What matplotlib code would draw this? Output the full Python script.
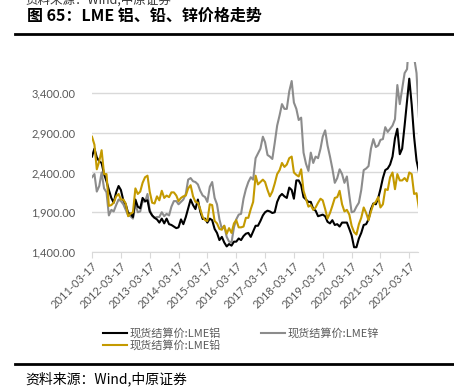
import matplotlib
matplotlib.use("Agg")
import matplotlib.pyplot as plt
from matplotlib.lines import Line2D
import pandas as pd

plt.rcParams['font.family'] = ['Noto Sans CJK SC', 'DejaVu Sans']

# monthly settlement prices, 2011-03 .. 2022-07 (USD/t)
aluminium = [
    2600, 2700, 2590, 2540, 2520, 2380, 2290, 2180, 2080, 2020,
    2150, 2230, 2180, 2050, 2000, 1890, 1880, 1840, 2060, 1970, 1950, 2080,
    2040, 2050, 1910, 1860, 1830, 1810, 1770, 1820, 1760, 1820, 1750, 1740,
    1720, 1700, 1710, 1810, 1750, 1840, 1950, 2060, 1990, 1940, 2060, 1910,
    1815, 1820, 1770, 1820, 1800, 1690, 1640, 1550, 1590, 1520, 1470, 1500,
    1480, 1530, 1530, 1570, 1550, 1600, 1630, 1640, 1590, 1660, 1730, 1730,
    1790, 1860, 1900, 1920, 1910, 1890, 1900, 2030, 2100, 2130, 2100, 2080,
    2210, 2180, 2070, 2300, 2300, 2240, 2090, 2060, 2030, 2030, 1940, 1920,
    1850, 1860, 1870, 1850, 1780, 1760, 1800, 1740, 1750, 1720, 1770, 1770,
    1770, 1690, 1610, 1460, 1460, 1570, 1640, 1740, 1750, 1810, 1940, 2010,
    2000, 2080, 2190, 2330, 2430, 2450, 2500, 2600, 2830, 2950, 2630, 2700,
    2990, 3300, 3580, 3250, 2850, 2550, 2410,
]
zinc = [
    2340, 2380, 2160, 2230, 2400, 2200, 2150, 1860, 1930, 1910,
    1990, 2060, 2040, 2000, 1930, 1860, 1850, 1820, 2010, 1900, 1910, 2040,
    2030, 2130, 1930, 1860, 1830, 1840, 1840, 1900, 1850, 1880, 1860, 1970,
    2040, 2040, 2000, 2030, 2060, 2130, 2310, 2330, 2290, 2280, 2250, 2170,
    2110, 2090, 2030, 2220, 2280, 2080, 2000, 1810, 1690, 1730, 1590, 1530,
    1520, 1710, 1810, 1870, 1880, 2070, 2190, 2280, 2340, 2310, 2580, 2640,
    2700, 2850, 2780, 2620, 2600, 2570, 2770, 2990, 3120, 3260, 3200, 3200,
    3420, 3550, 3280, 3200, 3060, 3090, 2650, 2510, 2420, 2650, 2520, 2600,
    2580, 2700, 2850, 2930, 2740, 2600, 2450, 2270, 2330, 2440, 2380, 2270,
    2350, 2110, 1900, 1910, 1970, 2020, 2180, 2430, 2450, 2480, 2700, 2820,
    2720, 2740, 2810, 2820, 2970, 2910, 2950, 2990, 3070, 3500, 3260, 3450,
    3650, 3700, 4100, 4300, 3850, 3650, 3100,
]
lead = [
    2850, 2750, 2440, 2540, 2680, 2380, 2380, 1980, 1990, 2020,
    2100, 2130, 2060, 2060, 2010, 1850, 1880, 1900, 2200, 2130, 2160, 2270,
    2340, 2360, 2160, 2020, 2010, 2100, 2050, 2170, 2080, 2110, 2090, 2150,
    2150, 2110, 2040, 2080, 2100, 2110, 2200, 2240, 2100, 2030, 2020, 1940,
    1840, 1800, 1790, 2000, 1990, 1790, 1760, 1690, 1680, 1730, 1630, 1700,
    1640, 1760, 1800, 1710, 1710, 1720, 1830, 1830, 1940, 2030, 2360, 2250,
    2280, 2310, 2280, 2180, 2100, 2160, 2260, 2380, 2430, 2520, 2470, 2500,
    2580, 2600, 2400, 2370, 2350, 2440, 2170, 2070, 1970, 1990, 1930, 1960,
    2020, 2070, 2050, 1940, 1820, 1890, 1980, 2080, 2090, 2170, 2000, 1910,
    1930, 1870, 1730, 1650, 1620, 1750, 1830, 1960, 1890, 1800, 1910, 2000,
    2030, 2090, 1960, 2000, 2190, 2180, 2340, 2400, 2190, 2380, 2300, 2300,
    2330, 2290, 2400, 2380, 2130, 2140, 1950,
]
dates = pd.date_range('2011-03-17', periods=len(aluminium), freq=pd.DateOffset(months=1))
tick_dates = pd.date_range('2011-03-17', periods=12, freq=pd.DateOffset(years=1))
yticks = [1400, 1900, 2400, 2900, 3400]

labels = ['现货结算价:LME铝', '现货结算价:LME锌', '现货结算价:LME铅']
colors = ['#000000', '#8c8c8c', '#c49a00']

fig = plt.figure(figsize=(4.54, 3.91), dpi=100)
ax = fig.add_axes([0.2026, 0.3555, 0.718, 0.486])

ax.plot(dates, aluminium, color=colors[0], lw=1.5, zorder=3)
ax.plot(dates, zinc, color=colors[1], lw=1.5, zorder=2)
ax.plot(dates, lead, color=colors[2], lw=1.5, zorder=4)

ax.set_ylim(1400, 3790)
ax.set_xlim(dates[0], pd.Timestamp('2022-07-05'))
ax.set_yticks(yticks)
ax.set_yticklabels([f'{v:,.2f}' for v in yticks], fontfamily='Lato', fontsize=8, color='#595959')
ax.set_xticks(tick_dates)
ax.set_xticklabels([d.strftime('%Y-%m-%d') for d in tick_dates], rotation=45, ha='right',
                   rotation_mode='anchor', fontfamily='Lato', fontsize=8, color='#595959')
ax.grid(axis='y', color='#d9d9d9', lw=1)
ax.set_axisbelow(True)
for s in ['left', 'right', 'top']:
    ax.spines[s].set_visible(False)
ax.spines['bottom'].set_color('#d9d9d9')
ax.tick_params(axis='y', length=0, pad=12)
ax.tick_params(axis='x', length=4, color='#d9d9d9', pad=2)

handles = [Line2D([], [], color=c, lw=1.5) for c in colors]
order = [0, 2, 1]
fig.legend([handles[i] for i in order], [labels[i] for i in order], ncol=2,
           loc='center', bbox_to_anchor=(0.53, 0.132), frameon=False, fontsize=8,
           labelcolor='#595959', handlelength=2.2, handletextpad=0.2,
           columnspacing=3.6, labelspacing=0.15)

fig.text(0.06, 0.947, '图 65：LME 铝、铅、锌价格走势', fontsize=11.5, fontweight='bold')
fig.text(0.055, 1.0, '资料来源：Wind,中原证券', fontsize=9, va='center', color='#333333')
fig.text(0.055, 0.031, '资料来源：Wind,中原证券', fontsize=10, va='center')
fig.add_artist(Line2D([0.033, 1.0], [0.913, 0.913], color='black', lw=2))
fig.add_artist(Line2D([0.033, 1.0], [0.069, 0.069], color='black', lw=2))

fig.savefig('out.png', dpi=100)
